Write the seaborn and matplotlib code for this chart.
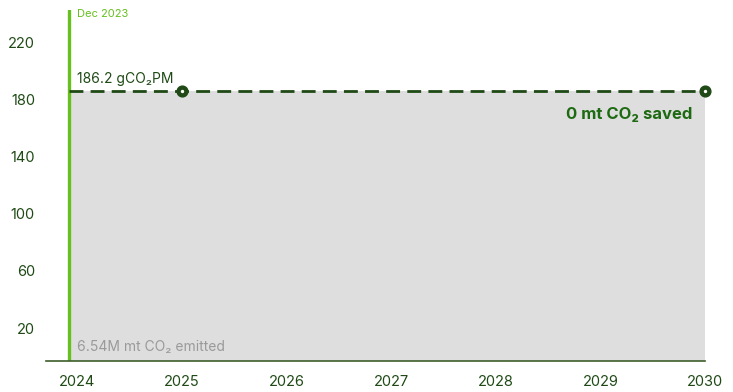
import matplotlib
matplotlib.use("Agg")
import matplotlib.pyplot as plt
import seaborn as sns
import pandas as pd

# Emission intensity series (gCO2 per MWh) from Dec 2023 through 2030
years = [2023.917, 2025, 2030]
intensity = [186.2, 186.2, 186.2]
marker_years = [2025, 2030]
marker_values = [186.2, 186.2]
x_ticks = [2024, 2025, 2026, 2027, 2028, 2029, 2030]
y_ticks = [20, 60, 100, 140, 180, 220]
start_year = 2023.917

sns.set_theme(style="white")
plt.rcParams["font.family"] = ["Inter", "DejaVu Sans"]

DARK = "#1f4a16"
LIGHT = "#66c11e"
LABEL_GREEN = "#1d6a12"

fig = plt.figure(figsize=(7.33, 3.92), dpi=100)
ax = fig.add_axes([0.0628, 0.079, 0.899, 0.895])

ymin, ymax = -3.0, 242.4
ax.set_xlim(2023.70, 2030.0)
ax.set_ylim(ymin, ymax)

df = pd.DataFrame({"year": years, "value": intensity})
ax.fill_between(df["year"], df["value"], ymin, color="#dedede", linewidth=0, zorder=1)

sns.lineplot(data=df, x="year", y="value", ax=ax, color=DARK, linewidth=2.0,
             dashes=False, zorder=3, legend=False)
ax.lines[-1].set_dashes((5, 2.6))

mk = pd.DataFrame({"year": marker_years, "value": marker_values})
sns.scatterplot(data=mk, x="year", y="value", ax=ax, s=60, color=DARK,
                edgecolor=DARK, linewidth=1, zorder=4, legend=False, clip_on=False)
ax.scatter(marker_years, marker_values, s=2, color="white", zorder=5, clip_on=False)

ax.axvline(start_year, color=LIGHT, linewidth=2.4, zorder=2)

ax.text(start_year + 0.077, 239.5, "Dec 2023", color=LIGHT, fontsize=8,
        va="center", ha="left")
ax.text(start_year + 0.077, 189.5, "186.2 gCO₂PM", color=DARK, fontsize=10,
        va="bottom", ha="left")
ax.text(2029.876, 169.5, "0 mt CO₂ saved", color=LABEL_GREEN, fontsize=12,
        fontweight="bold", va="center", ha="right")
ax.text(start_year + 0.077, 6.8, "6.54M mt CO₂ emitted", color="#9a9a9a",
        fontsize=10, va="center", ha="left")

ax.set_xticks(x_ticks)
ax.set_xticklabels([str(t) for t in x_ticks])
ax.set_yticks(y_ticks)
ax.set_yticklabels([str(t) for t in y_ticks])
ax.set_xlabel("")
ax.set_ylabel("")

for s in ["top", "right", "left"]:
    ax.spines[s].set_visible(False)
ax.spines["bottom"].set_color("#3d5e2c")
ax.spines["bottom"].set_linewidth(1.2)

ax.tick_params(axis="x", length=4, width=1, colors="#3d5e2c",
               labelsize=10.5, pad=6, labelcolor=DARK)
ax.tick_params(axis="y", length=0, labelsize=10.5, pad=8, labelcolor=DARK)

fig.savefig("out.png", dpi=100)
